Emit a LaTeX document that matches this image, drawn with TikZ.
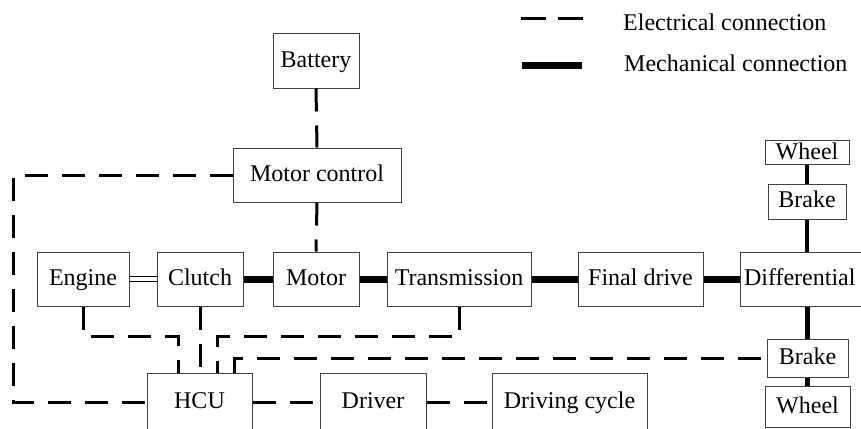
\documentclass[tikz,border=0pt]{standalone}
\usepackage{fontspec}
\setmainfont{Liberation Serif}
\begin{document}
\begin{tikzpicture}[x=1pt,y=-1pt,
  box/.style={draw=black!75,line width=1pt,fill=white,inner sep=0pt,
    font=\fontsize{24}{28}\selectfont,text height=16pt,text depth=4pt},
  elec/.style={line width=3pt,dash pattern=on 23pt off 14pt},
  mech/.style={line width=7pt},
  mechv/.style={line width=4.5pt},
  dbl/.style={double,line width=1pt,double distance=3.5pt},
  lbl/.style={font=\fontsize{24}{28}\selectfont,inner sep=0pt,anchor=west}]
\useasboundingbox (0,0) rectangle (861,428);
\clip (0,0) rectangle (861,428);
% legend
\coordinate (le1) at (521,19); \coordinate (le2) at (583,19);
\coordinate (lm1) at (522,65); \coordinate (lm2) at (582,65);
\draw[line width=3pt,dash pattern=on 25pt off 12pt] (le1) -- (le2);
\draw[mech] (lm1) -- (lm2);
\node[lbl] (ltxt1) at (623,22) {Electrical connection};
\node[lbl] (ltxt2) at (624,63) {Mechanical connection};
% boxes
\node[box,minimum width=86pt,minimum height=54pt] (battery) at (316,61) {Battery};
\node[box,minimum width=168pt,minimum height=54pt] (mc) at (317,175) {Motor control};
\node[box,minimum width=92pt,minimum height=54pt] (engine) at (83,279) {Engine};
\node[box,minimum width=86pt,minimum height=54pt] (clutch) at (200,279) {Clutch};
\node[box,minimum width=86pt,minimum height=54pt] (motor) at (316,279) {Motor};
\node[box,minimum width=144pt,minimum height=54pt] (trans) at (459,279) {Transmission};
\node[box,minimum width=125pt,minimum height=54pt] (fd) at (640.5,279) {Final drive};
\node[box,minimum width=124pt,minimum height=54pt,text width=120pt,align=left] (diff) at (802,279) {\hspace*{2pt}Differential};
\node[box,minimum width=84pt,minimum height=24pt,text height=15pt,text depth=0pt] (wheel1) at (807,152) {Wheel};
\node[box,minimum width=78pt,minimum height=35pt] (brake1) at (807,201.5) {Brake};
\node[box,minimum width=81pt,minimum height=38pt] (brake2) at (807.5,358) {Brake};
\node[box,minimum width=85pt,minimum height=41pt] (wheel2) at (807.5,407) {Wheel};
\node[box,minimum width=105pt,minimum height=58pt] (hcu) at (199.5,402) {HCU};
\node[box,minimum width=106pt,minimum height=58pt] (driver) at (373,402) {Driver};
\node[box,minimum width=155pt,minimum height=58pt] (dc) at (569.5,402) {Driving cycle};
% helper coordinates
\coordinate (cl) at (13,175);
\coordinate (e1) at (178,336);
\coordinate (t1) at (217,336);
\coordinate (b1) at (234,358);
% electrical
\draw[elec] (battery.south) -- (mc.north);
\draw[elec] (mc.south) -- (motor.north);
\draw[elec] (mc.west) -- (cl) |- (hcu.west);
\draw[elec] (engine.south) |- (e1) -- (e1 |- hcu.north);
\draw[elec] (clutch.south) -- (clutch.south |- hcu.north);
\draw[elec] (trans.south) |- (t1) -- (t1 |- hcu.north);
\draw[elec] (b1 |- hcu.north) -- (b1) -- (brake2.west);
\draw[elec] (hcu.east) -- (driver.west);
\draw[elec] (driver.east) -- (dc.west);
% mechanical
\draw[dbl] (engine.east) -- (clutch.west);
\draw[mech] (clutch.east) -- (motor.west);
\draw[mech] (motor.east) -- (trans.west);
\draw[mech] (trans.east) -- (fd.west);
\draw[mech] (fd.east) -- (diff.west);
\draw[mechv] (wheel1.south) -- (brake1.north);
\draw[mechv] (brake1.south) -- (brake1.south |- diff.north);
\draw[mechv] (brake2.north |- diff.south) -- (brake2.north);
\draw[mechv] (brake2.south) -- (wheel2.north);
\end{tikzpicture}
\end{document}
